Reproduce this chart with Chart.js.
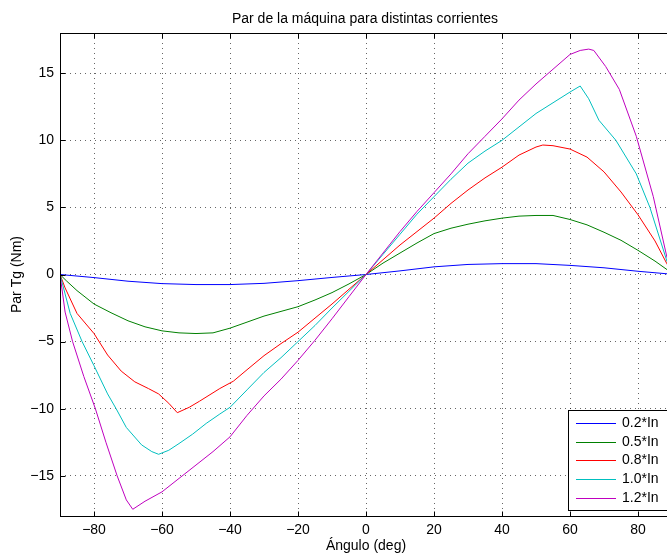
<!DOCTYPE html>
<html>
<head>
<meta charset="utf-8">
<title>Par de la máquina</title>
<script src="https://cdn.jsdelivr.net/npm/chart.js@4.4.1/dist/chart.umd.min.js"></script>
<style>
  html, body { margin: 0; padding: 0; background: #fff; overflow: hidden; }
  #wrap { position: relative; width: 680px; height: 553px; }
</style>
</head>
<body>
<div id="wrap"><canvas id="torqueChart"></canvas></div>
<script>
// torque vs load angle, one curve per current level
const angle02 = [-90, -80, -70, -60, -50, -40, -30, -20, -10, 0, 10, 20, 30, 40, 50, 60, 70, 80, 90];
const torque02 = [0, -0.23, -0.5, -0.68, -0.75, -0.75, -0.66, -0.46, -0.22, 0, 0.27, 0.57, 0.75, 0.81, 0.81, 0.68, 0.5, 0.24, 0.02];

const angle05 = [-90, -88, -85, -80, -75, -70, -65, -60, -55, -50, -45, -40, -35, -30, -25, -20, -15, -10, -5, 0,
  5, 10, 15, 20, 25, 30, 35, 40, 45, 50, 55, 60, 65, 70, 75, 80, 85, 90];
const torque05 = [0, -0.5, -1.2, -2.2, -2.85, -3.45, -3.9, -4.2, -4.35, -4.4, -4.35, -4.0, -3.55, -3.1, -2.75, -2.4, -1.9, -1.35, -0.7, 0,
  0.85, 1.6, 2.35, 3.05, 3.45, 3.75, 4.0, 4.2, 4.35, 4.4, 4.4, 4.1, 3.7, 3.15, 2.55, 1.8, 1.0, 0.1];

const angle08 = [-90, -88.5, -85, -80, -76, -72, -68, -64, -61, -58, -55.5, -52, -49, -43, -39, -35, -30, -25, -20, -15, -10, -5, 0,
  5, 10, 15, 20, 25, 30, 35, 40, 45, 50, 52, 55, 60, 65, 70, 75, 80, 85, 88.5, 90];
const torque08 = [0, -1.0, -2.9, -4.4, -6.0, -7.2, -8.0, -8.5, -8.9, -9.6, -10.3, -9.9, -9.45, -8.5, -7.95, -7.1, -6.05, -5.15, -4.3, -3.25, -2.2, -1.1, 0,
  1.1, 2.2, 3.2, 4.2, 5.3, 6.3, 7.2, 8.0, 8.9, 9.5, 9.65, 9.6, 9.35, 8.75, 7.65, 6.15, 4.45, 2.5, 0.8, 0.2];

const angle10 = [-90, -87, -83.5, -80, -76, -73.5, -70.5, -66, -63, -61, -58, -55, -51, -47, -43, -40, -35, -30, -25, -20, -15, -10, -5, 0,
  5, 10, 15, 20, 25, 30, 35, 40, 45, 50, 55, 60, 63, 65.5, 68.5, 73.5, 79.5, 83.5, 88.5, 90];
const torque10 = [0, -2.9, -5.0, -6.8, -8.9, -10.0, -11.4, -12.7, -13.2, -13.4, -13.1, -12.6, -11.9, -11.1, -10.4, -9.9, -8.6, -7.3, -6.2, -5.0, -3.8, -2.5, -1.25, 0,
  1.5, 3.0, 4.5, 5.8, 7.1, 8.3, 9.2, 10.0, 11.0, 12.0, 12.8, 13.6, 14.05, 13.1, 11.5, 10.0, 7.5, 5.0, 1.0, 0.3];

const angle12 = [-90, -88.5, -86.3, -83, -79.6, -76.5, -73.2, -70.5, -68.6, -65, -60, -55, -50, -45, -40, -35, -30, -25, -20, -15, -10, -5, 0,
  5, 10, 15, 20, 25, 30, 35, 40, 45, 50, 55, 60, 63, 65.5, 67, 70.5, 74.5, 79.5, 84.5, 88.5, 90];
const torque12 = [0, -2.8, -5.0, -7.6, -10.0, -12.5, -15.0, -16.8, -17.5, -16.9, -16.2, -15.2, -14.2, -13.2, -12.1, -10.5, -9.05, -7.8, -6.4, -4.9, -3.3, -1.65, 0,
  1.6, 3.2, 4.7, 6.1, 7.5, 9.0, 10.3, 11.6, 13.0, 14.2, 15.3, 16.4, 16.7, 16.8, 16.7, 15.5, 13.8, 10.3, 5.8, 1.3, 0.4];

const seriesLabels = ['0.2*In', '0.5*In', '0.8*In', '1.0*In', '1.2*In'];
const seriesColors = ['#0000ff', '#008000', '#ff0000', '#00bfbf', '#bf00bf'];
const seriesAngles = [angle02, angle05, angle08, angle10, angle12];
const seriesTorques = [torque02, torque05, torque08, torque10, torque12];

const xTicks = [-80, -60, -40, -20, 0, 20, 40, 60, 80];
const yTicks = [-15, -10, -5, 0, 5, 10, 15];

const FONT = '"Liberation Sans", Arial, Helvetica, sans-serif';

function toPoints(xs, ys) {
  return xs.map((v, i) => ({ x: v, y: ys[i] }));
}

function minusSign(v) {
  return String(v).replace('-', '\u2212');
}

const datasets = seriesLabels.map((label, i) => ({
  label,
  data: toPoints(seriesAngles[i], seriesTorques[i]),
  borderColor: seriesColors[i],
  borderWidth: 1,
  pointRadius: 0,
  tension: 0,
  fill: false,
  order: seriesLabels.length - i,
}));

// box, inward ticks, legend and titles
const decorations = {
  id: 'decorations',
  afterDraw(chart) {
    const { ctx, chartArea: a, scales } = chart;
    const x = scales.x;
    const y = scales.y;
    ctx.save();
    ctx.strokeStyle = '#000';
    ctx.lineWidth = 1;

    const line = (x1, y1, x2, y2) => {
      ctx.beginPath();
      ctx.moveTo(x1, y1);
      ctx.lineTo(x2, y2);
      ctx.stroke();
    };

    const L = Math.round(a.left) + 0.5;
    const R = Math.round(a.right) + 0.5;
    const T = Math.round(a.top) + 0.5;
    const B = Math.round(a.bottom) + 0.5;
    ctx.strokeRect(L, T, R - L, B - T);

    xTicks.forEach(v => {
      const px = Math.round(x.getPixelForValue(v)) + 0.5;
      line(px, B, px, B - 5);
      line(px, T, px, T + 5);
    });
    yTicks.forEach(v => {
      const py = Math.round(y.getPixelForValue(v)) + 0.5;
      line(L, py, L + 5, py);
      line(R, py, R - 5, py);
    });

    // legend box in the lower right corner
    const lx = 568.5, ly = 410.5, lw = 110, lh = 100;
    ctx.fillStyle = '#fff';
    ctx.fillRect(lx, ly, lw, lh);
    ctx.strokeRect(lx, ly, lw, lh);
    ctx.font = '14px ' + FONT;
    ctx.textAlign = 'left';
    ctx.textBaseline = 'middle';
    chart.data.datasets.forEach((ds, i) => {
      const ry = Math.round(423 + i * 18.7) + 0.5;
      ctx.strokeStyle = ds.borderColor;
      line(576, ry, 616, ry);
      ctx.fillStyle = '#000';
      ctx.fillText(ds.label, 622, ry);
    });

    ctx.fillStyle = '#000';
    ctx.textAlign = 'center';
    ctx.textBaseline = 'middle';
    ctx.font = '14px ' + FONT;
    ctx.fillText('Par de la máquina para distintas corrientes', (a.left + a.right) / 2 - 1, 19);
    ctx.fillText('Ángulo (deg)', (a.left + a.right) / 2, 546);

    ctx.translate(17, (a.top + a.bottom) / 2);
    ctx.rotate(-Math.PI / 2);
    ctx.fillText('Par Tg (Nm)', 0, 0);
    ctx.restore();
  }
};

new Chart(document.getElementById('torqueChart'), {
  type: 'line',
  data: { datasets },
  options: {
    responsive: true,
    maintainAspectRatio: false,
    animation: false,
    events: [],
    layout: { padding: { top: 33, right: 8, left: 0, bottom: 0 } },
    plugins: {
      legend: { display: false },
      title: { display: false },
      tooltip: { enabled: false },
    },
    scales: {
      x: {
        type: 'linear',
        min: -90,
        max: 90,
        afterBuildTicks: axis => { axis.ticks = xTicks.map(v => ({ value: v })); },
        afterFit: axis => { axis.height = 37; },
        grid: { color: 'rgba(0,0,0,0.6)', lineWidth: 1, drawTicks: false },
        border: { display: false, dash: [1, 4] },
        ticks: {
          color: '#000',
          font: { family: FONT, size: 14 },
          padding: 6,
          maxRotation: 0,
          callback: v => minusSign(v),
        },
      },
      y: {
        type: 'linear',
        min: -18,
        max: 18,
        afterBuildTicks: axis => { axis.ticks = yTicks.map(v => ({ value: v })); },
        afterFit: axis => { axis.width = 60; },
        grid: { color: 'rgba(0,0,0,0.6)', lineWidth: 1, drawTicks: false },
        border: { display: false, dash: [1, 4] },
        ticks: {
          color: '#000',
          font: { family: FONT, size: 14 },
          padding: 6,
          callback: v => minusSign(v),
        },
      },
    },
  },
  plugins: [decorations],
});
</script>
</body>
</html>
